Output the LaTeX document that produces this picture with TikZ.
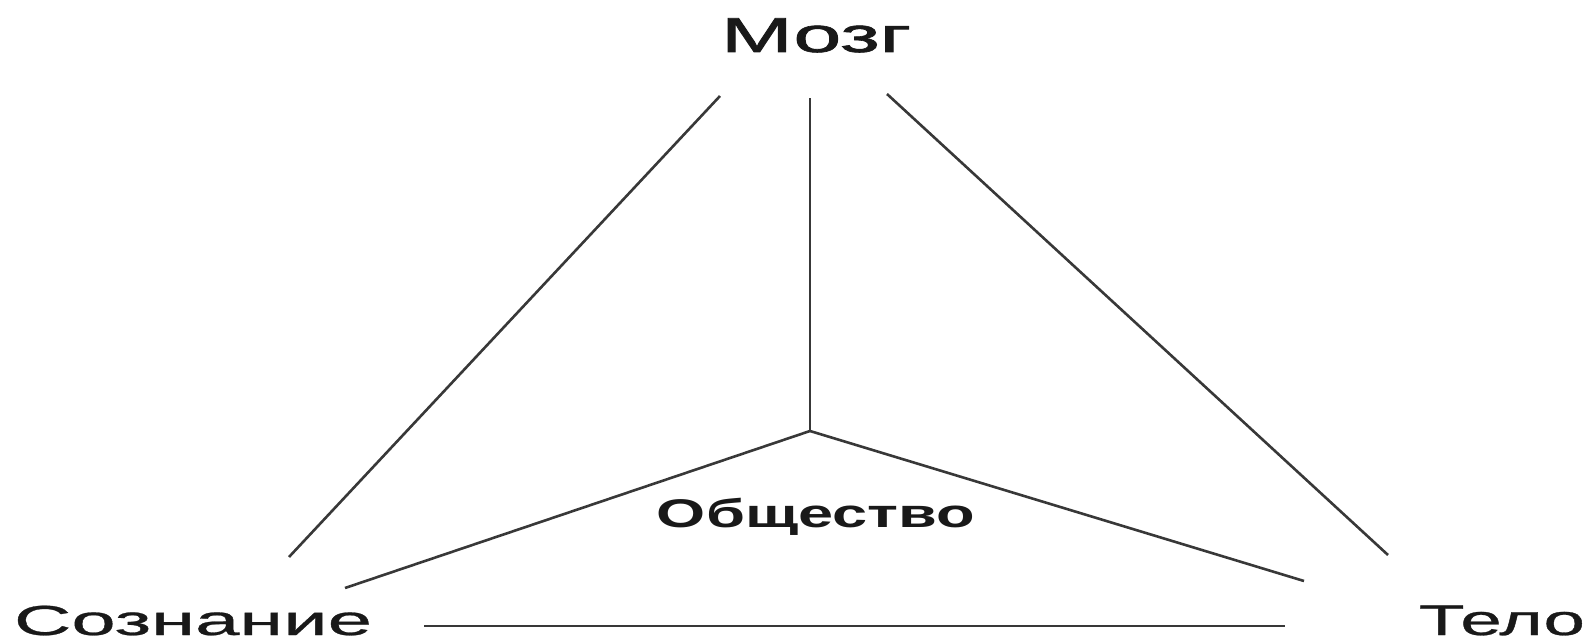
\documentclass[tikz,border=0pt]{standalone}
\usepackage{fontspec}
\setmainfont{Liberation Sans}
\newfontfamily\semibold[FakeBold=1.2]{Liberation Sans}
\newfontfamily\lightbold[FakeBold=0.6]{Liberation Sans}
\usepackage{graphicx}
\newcommand\wtext[2]{\resizebox{#1}{\height}{#2}}
\tikzset{
  lbl/.style={anchor=base,inner sep=0pt,text=black!90},
  edge/.style={line width=2.6pt,draw=black!78}
}
\begin{document}
\begin{tikzpicture}[x=1pt,y=-1pt]
\useasboundingbox (0,0) rectangle (1589,642);
\node[lbl] (mozg) at (816,52) {\wtext{190pt}{\fontsize{49}{52}\selectfont\semibold Мозг}};
\node[lbl] (soz) at (193,635) {\wtext{358pt}{\fontsize{42}{46}\selectfont\lightbold Сознание}};
\node[lbl] (telo) at (1502,635) {\wtext{166pt}{\fontsize{43}{46}\selectfont\lightbold Тело}};
\node[lbl] (obsh) at (816,527) {\wtext{318pt}{\fontsize{40}{44}\selectfont\bfseries Общество}};
\coordinate (mL) at (720,96);
\coordinate (mM) at (810,98);
\coordinate (mR) at (887,94);
\coordinate (sT) at (289,557);
\coordinate (tT) at (1388,555);
\coordinate (hub) at (810,431);
\coordinate (sH) at (345,588);
\coordinate (tH) at (1304,581);
\coordinate (sB) at (424,626);
\coordinate (tB) at (1285,626);
\draw[edge] (mL) -- (sT);
\draw[edge] (mM) -- (hub);
\draw[edge] (mR) -- (tT);
\draw[edge] (hub) -- (sH);
\draw[edge] (hub) -- (tH);
\draw[edge] (sB) -- (tB);
\end{tikzpicture}
\end{document}
